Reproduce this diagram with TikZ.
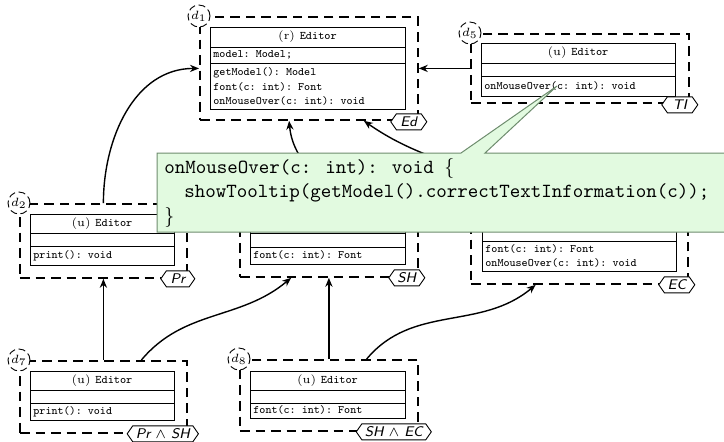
\documentclass[tikz,border=0pt]{standalone}
\usepackage{fontspec}
\usetikzlibrary{shapes.symbols,arrows.meta,calc}
\definecolor{callfill}{RGB}{226,250,224}
\definecolor{callline}{RGB}{110,140,110}
\tikzset{
  frame/.style={draw, dash pattern=on 4.8pt off 3pt, line width=0.9pt, inner sep=0pt, anchor=north west},
  clsline/.style={line width=0.5pt},
  ttx/.style={font=\fontsize{5.7}{7}\selectfont\ttfamily\frenchspacing, inner sep=0pt, anchor=west},
  ttitle/.style={font=\fontsize{5.8}{7}\selectfont, inner sep=0pt},
  dlab/.style={circle, draw, dash pattern=on 3.5pt off 1.8pt, line width=0.45pt, fill=white, minimum size=11pt, inner sep=0pt, font=\fontsize{6}{6}\selectfont},
  flab/.style={signal, signal to=west and east, signal pointer angle=110, draw, line width=0.45pt, fill=white, minimum height=8pt, inner xsep=1.5pt, inner ysep=0pt, font=\fontsize{7}{7.5}\selectfont\sffamily\itshape},
  arr/.style={-{Stealth[length=4.5pt,width=3.6pt]}, line width=0.7pt},
}
\newcommand\ed[1]{(#1)~\texttt{Editor}}
\begin{document}
\begin{tikzpicture}[x=0.5pt,y=-0.5pt]
\useasboundingbox (0,0) rectangle (724,441);
% frames
\node[frame, minimum width=109pt, minimum height=51.5pt] (f1) at (199,16) {};
\node[frame, minimum width=109pt, minimum height=34.5pt] (f5) at (470,33) {};
\node[frame, minimum width=83.5pt, minimum height=37pt] (f2) at (19,203) {};
\node[frame, minimum width=89pt, minimum height=36.5pt] (f3) at (239,203) {};
\node[frame, minimum width=108.5pt, minimum height=43pt] (f4) at (470,197) {};
\node[frame, minimum width=83.5pt, minimum height=36pt] (f7) at (19,360) {};
\node[frame, minimum width=89pt, minimum height=35.5pt] (f8) at (239,359) {};
% classes
\draw[clsline] (210,27) rectangle (405,109) (210,47) -- (405,47) (210,63) -- (405,63);
\node[ttitle] (t1) at (307.5,37) {\ed{r}};
\node[ttx] (a1) at (213,55) {model: Model;};
\node[ttx] (m11) at (213,73) {getModel(): Model};
\node[ttx] (m12) at (213,87) {font(c: int): Font};
\node[ttx] (m13) at (213,101) {onMouseOver(c: int): void};

\draw[clsline] (481,43) rectangle (675,96) (481,63) -- (675,63) (481,76) -- (675,76);
\node[ttitle] (t5) at (578,53) {\ed{u}};
\node[ttx] (m51) at (484,86) {onMouseOver(c: int): void};

\draw[clsline] (30,214) rectangle (174,265) (30,233) -- (174,233) (30,246) -- (174,246);
\node[ttitle] (t2) at (102,223.5) {\ed{u}};
\node[ttx] (m21) at (33,255.5) {print(): void};

\draw[clsline] (250,214) rectangle (405,264) (250,233) -- (405,233) (250,247) -- (405,247);
\node[ttx] (m31) at (253,255.5) {font(c: int): Font};

\draw[clsline] (482,208) rectangle (676,271) (482,228) -- (676,228) (482,241) -- (676,241);
\node[ttx] (m41) at (485,249) {font(c: int): Font};
\node[ttx] (m42) at (485,263) {onMouseOver(c: int): void};

\draw[clsline] (30,371) rectangle (174,420) (30,390) -- (174,390) (30,403) -- (174,403);
\node[ttitle] (t7) at (102,380.5) {\ed{u}};
\node[ttx] (m71) at (33,411.5) {print(): void};

\draw[clsline] (250,371) rectangle (405,418) (250,390) -- (405,390) (250,403) -- (405,403);
\node[ttitle] (t8) at (327.5,380.5) {\ed{u}};
\node[ttx] (m81) at (253,410.5) {font(c: int): Font};

% connectors
\draw[arr] (f2.north) to[out=90,in=180] (f1.west);
\draw[arr] (f5.west) -- (f1.east);
\draw[arr] (f7.north) -- (f2.south);
\draw[arr] ($(f7.north)!0.45!(f7.north east)$) to[out=50,in=-140] ($(f3.south)!0.42!(f3.south west)$);
\draw[arr] (f8.north) -- (f3.south);
\draw[arr] ($(f8.north)!0.42!(f8.north east)$) to[out=50,in=-140] ($(f4.south)!0.4!(f4.south west)$);
\draw[arr] (f3.north) to[out=115,in=-85] ($(f1.south)!0.18!(f1.south west)$);
\draw[arr] ($(f4.north)!0.5!(f4.north west)$) to[out=150,in=-35] ($(f1.south)!0.5!(f1.south east)$);

% labels
\node[dlab] (l1) at (f1.north west) {$d_1$};
\node[dlab] (l5) at (f5.north west) {$d_5$};
\node[dlab] (l2) at (f2.north west) {$d_2$};
\node[dlab] (l7) at (f7.north west) {$d_7$};
\node[dlab] (l8) at (f8.north west) {$d_8$};
\node[flab, minimum width=18pt] (h1) at ($(f1.south east)+(-10,1)$) {Ed};
\node[flab, minimum width=18pt] (h5) at ($(f5.south east)+(-10,1)$) {TI};
\node[flab, minimum width=17pt] (h2) at ($(f2.south east)+(-10,0)$) {Pr};
\node[flab, minimum width=18pt] (h3) at ($(f3.south east)+(-12,0)$) {SH};
\node[flab, minimum width=18pt] (h4) at ($(f4.south east)+(-12,0)$) {EC};
\node[flab, minimum width=31pt] (h7) at ($(f7.south east)+(-25,0)$) {Pr $\wedge$ SH};
\node[flab, minimum width=31pt] (h8) at ($(f8.south east)+(-25,0)$) {SH $\wedge$ EC};

% callout
\path[fill=callfill, draw=callline, line width=0.5pt] (157,153) -- (461,153) -- (557,86) -- (485,153) -- (735,153) -- (735,232) -- (157,232) -- cycle;
\node[anchor=west, align=left, inner sep=0pt, font=\fontsize{10}{12.25}\selectfont\ttfamily] (ct) at (164,192.5)
 {onMouseOver(c: int): void $\{$\\\hspace*{10pt}showTooltip(getModel().correctTextInformation(c));\\$\}$};
\end{tikzpicture}
\end{document}
